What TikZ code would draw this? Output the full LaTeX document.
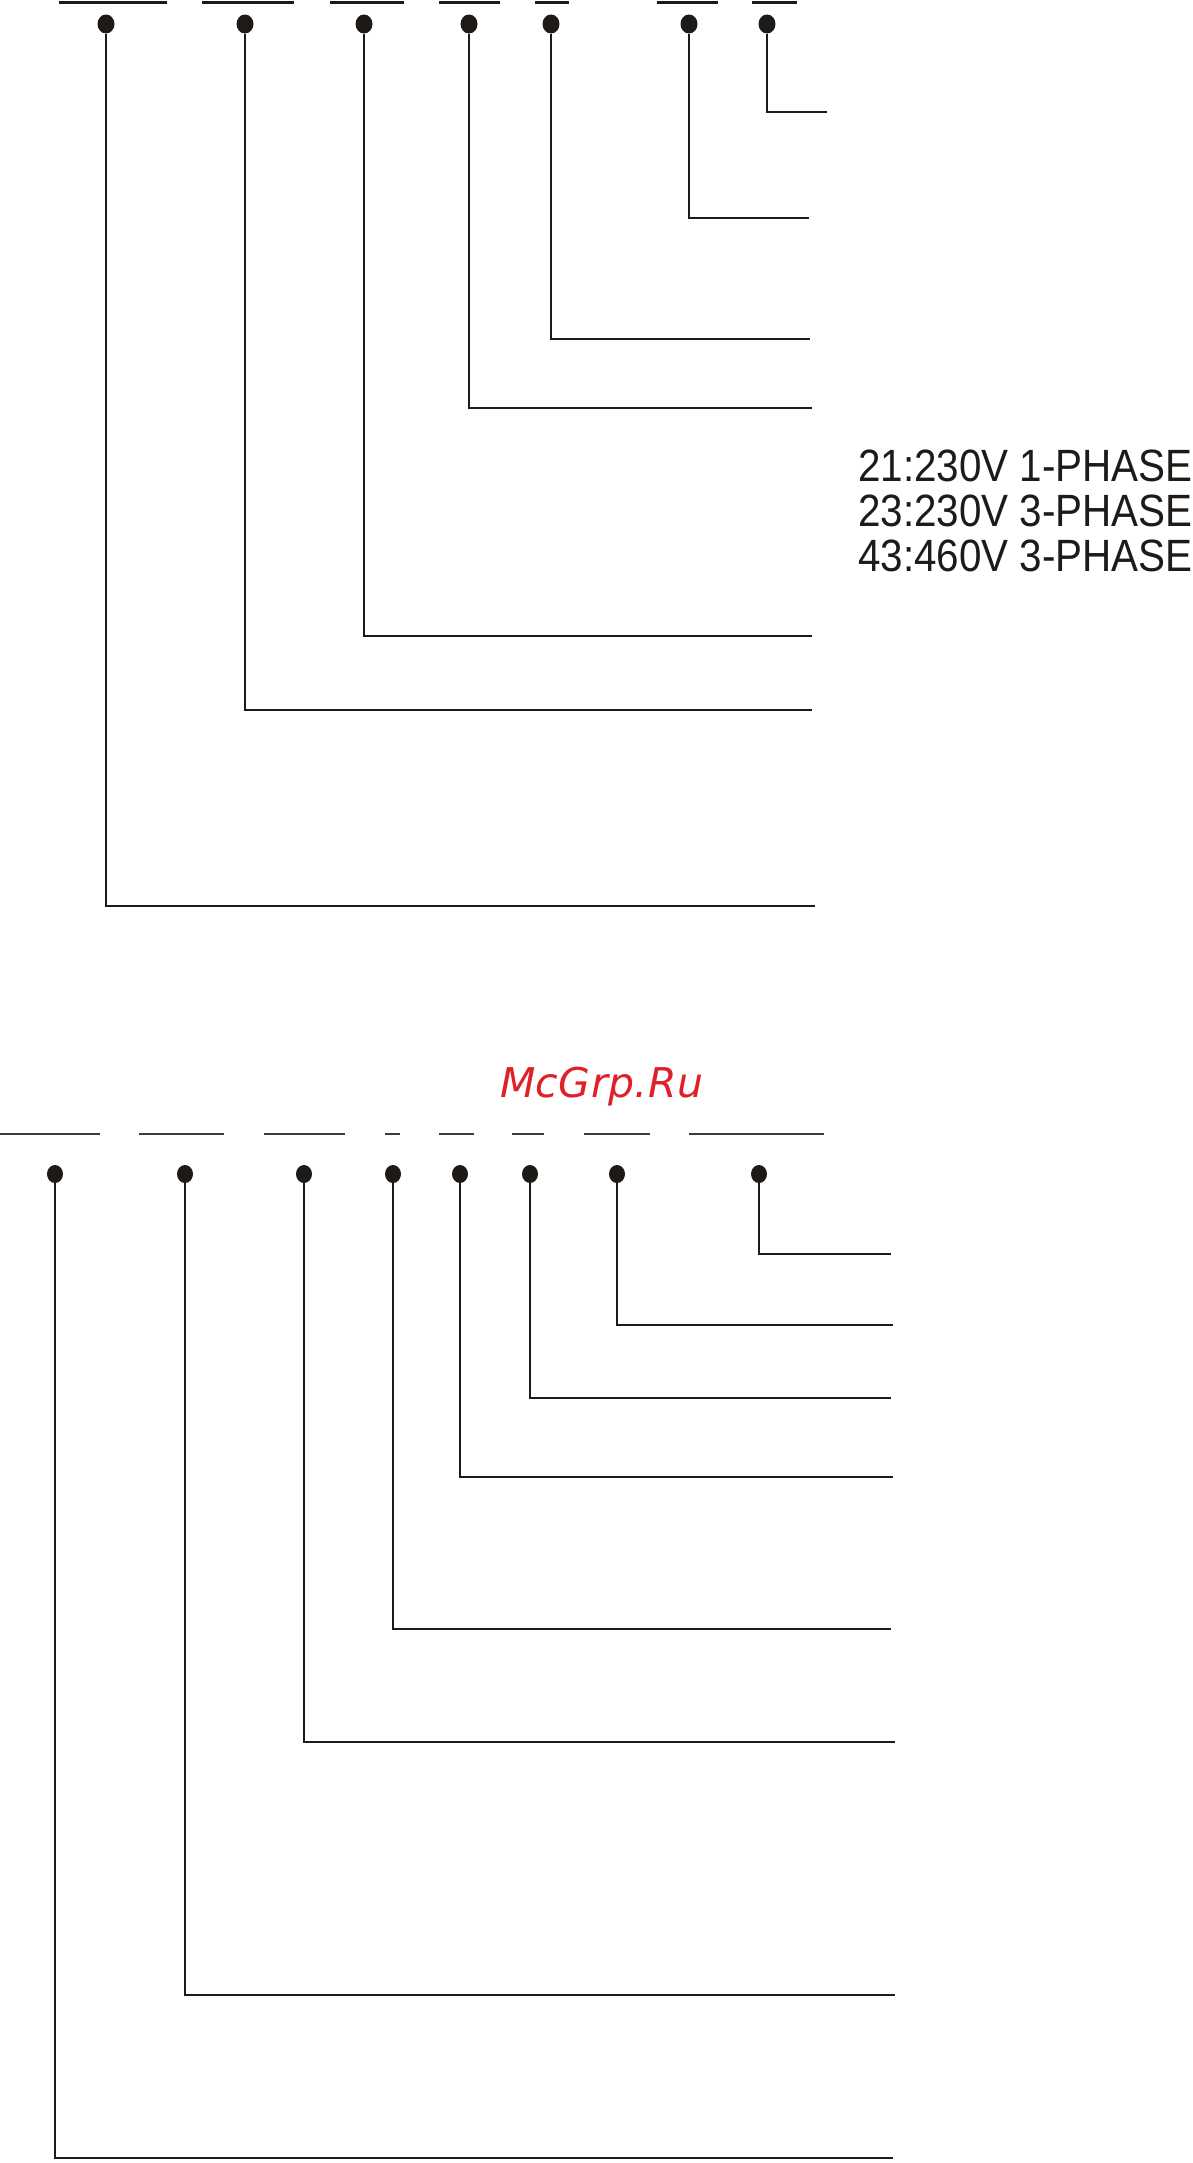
\documentclass[tikz,border=0pt]{standalone}
\usepackage{fontspec}
\usetikzlibrary{shapes.geometric}
\newfontfamily\labfont{Liberation Sans}
\newfontfamily\wmfont[LetterSpace=1.0]{DejaVu Sans}
\definecolor{wmred}{RGB}{224,32,40}
\definecolor{ink}{RGB}{30,26,24}
\begin{document}
\begin{tikzpicture}[x=1pt,y=-1pt,
  dotnode/.style={ellipse,fill=ink,draw=none,minimum width=17pt,minimum height=19pt,inner sep=0pt},
  dotsmall/.style={ellipse,fill=ink,draw=none,minimum width=16pt,minimum height=18pt,inner sep=0pt},
  lead/.style={draw=ink,line width=1.7pt},
  topbar/.style={draw=ink,line width=3.2pt},
  botbar/.style={draw=ink!85,line width=2.4pt},
  labtext/.style={anchor=base west,inner sep=0pt,font=\labfont\fontsize{40.4}{42}\selectfont,text=ink}]
\useasboundingbox (0,0) rectangle (1193,2163);
\fill[white] (0,0) rectangle (1193,2163);

% ---------- top part ----------
\foreach \a/\b in {58.5/167,202/294,330/404,439/500,535/569,657/718,752/797}
  \draw[topbar] (\a,2.5) -- (\b,2.5);

\node[dotnode] (t1) at (106,24) {};
\node[dotnode] (t2) at (245,24) {};
\node[dotnode] (t3) at (364,24) {};
\node[dotnode] (t4) at (469,24) {};
\node[dotnode] (t5) at (551,24) {};
\node[dotnode] (t6) at (689,24) {};
\node[dotnode] (t7) at (767,24) {};

\coordinate (te7) at (827,112);
\coordinate (te6) at (809,218);
\coordinate (te5) at (810,339);
\coordinate (te4) at (812,408);
\coordinate (te3) at (812,636);
\coordinate (te2) at (812,710);
\coordinate (te1) at (815,906);

\foreach \i in {1,...,7}
  \draw[lead] (t\i) |- (te\i);

\node[labtext] (l1) at (858,481) {\scalebox{1}[1.12]{21:230V 1-PHASE}};
\node[labtext] (l2) at (858,526) {\scalebox{1}[1.12]{23:230V 3-PHASE}};
\node[labtext] (l3) at (858,571) {\scalebox{1}[1.12]{43:460V 3-PHASE}};

% ---------- watermark ----------
\node[anchor=base west,inner sep=0pt,text=wmred,
  font=\wmfont\itshape\fontsize{41}{43}\selectfont] (wm) at (500,1097) {McGrp.Ru};

% ---------- bottom part ----------
\foreach \a/\b in {0/100,139/224,264/345,385/400,439/474,512/544,584/650,689/824}
  \draw[botbar] (\a,1134) -- (\b,1134);

\node[dotsmall] (b1) at (55,1174) {};
\node[dotsmall] (b2) at (185,1174) {};
\node[dotsmall] (b3) at (304,1174) {};
\node[dotsmall] (b4) at (393,1174) {};
\node[dotsmall] (b5) at (460,1174) {};
\node[dotsmall] (b6) at (530,1174) {};
\node[dotsmall] (b7) at (617,1174) {};
\node[dotsmall] (b8) at (759,1174) {};

\coordinate (be8) at (891,1254);
\coordinate (be7) at (893,1325);
\coordinate (be6) at (891,1398);
\coordinate (be5) at (893,1477);
\coordinate (be4) at (891,1629);
\coordinate (be3) at (895,1742);
\coordinate (be2) at (895,1995);
\coordinate (be1) at (893,2158);

\foreach \i in {1,...,8}
  \draw[lead] (b\i) |- (be\i);
\end{tikzpicture}
\end{document}
